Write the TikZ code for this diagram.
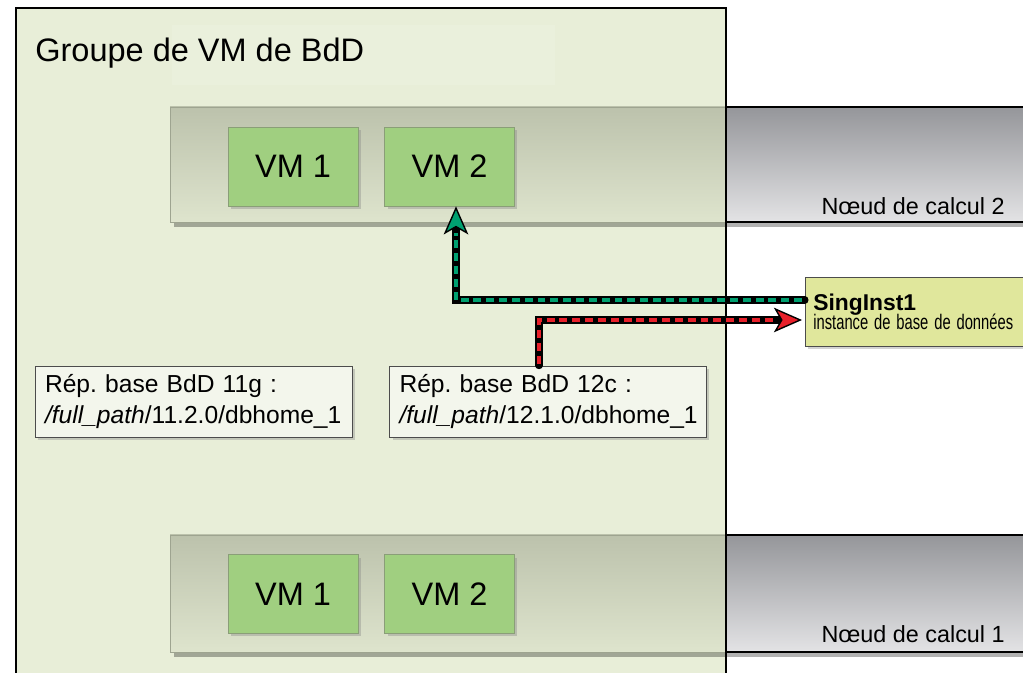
\documentclass[tikz,border=0pt]{standalone}
\usepackage{fontspec}
\setmainfont{Liberation Sans}
\newfontfamily\narrowfont[FakeStretch=0.70]{Liberation Sans}
\usetikzlibrary{arrows.meta,calc,shadows}

\definecolor{groupevert}{HTML}{E8EED8}
\definecolor{bandeh}{HTML}{BCC2AC}
\definecolor{bandeb}{HTML}{DEE4CD}
\definecolor{bandebord}{HTML}{9EA490}
\definecolor{noeudh}{HTML}{95969A}
\definecolor{noeudb}{HTML}{E3E3E5}
\definecolor{vmvert}{HTML}{A0CF80}
\definecolor{vmbord}{HTML}{8A9E78}
\definecolor{repfond}{HTML}{F3F6EC}
\definecolor{instjaune}{HTML}{E0E79C}
\definecolor{flechevert}{HTML}{00A070}
\definecolor{flecherouge}{HTML}{E8202A}

\begin{document}
\frenchspacing
\begin{tikzpicture}[x=0.02cm,y=0.02cm,
  ombre/.style={drop shadow={shadow xshift=0.06cm,shadow yshift=-0.06cm,opacity=.35}},
  vmbox/.style={draw=vmbord,fill=vmvert,minimum width=2.6cm,minimum height=1.58cm,
    font=\fontsize{18.5}{20}\selectfont,ombre},
  repbox/.style={draw=black!70,fill=repfond,align=left,text width=5.94cm,inner xsep=0.2cm,
    minimum height=1.42cm,font=\fontsize{14}{18}\selectfont,ombre},
  noeudlabel/.style={anchor=base east,inner sep=0pt,font=\fontsize{13.3}{14}\selectfont},
  fondligne/.style={line width=4pt,line cap=round},
  tirets/.style={line width=2pt,dash pattern=on 4.5pt off 2.8pt,shorten >=15pt},
  pointe/.style={-{Stealth[length=16pt,width=14pt,inset=4pt,line width=0.8pt,fill=#1]}}]
  \clip (0,0) rectangle (1023,672);

  % groupe de VM
  \fill[groupevert] (16,664) rectangle (726,-10);
  \fill[white,opacity=.12] (172,647) rectangle (555,587);
  \node[anchor=base west,inner sep=0pt,font=\fontsize{18.5}{20}\selectfont] (titre) at (35,610) {Groupe de VM de BdD};

  % noeuds de calcul
  \foreach \yb/\yh in {450/565,20/137} {
    \fill[black,opacity=.3] (174,\yb-5) rectangle (1030,\yh-5);
    \shade[top color=bandeh,bottom color=bandeb] (170,\yb) rectangle (726,\yh);
    \shade[top color=noeudh,bottom color=noeudb] (726,\yb) rectangle (1030,\yh);
    \draw[bandebord] (170,\yb) rectangle (726,\yh);
    \draw[thick] (726,\yh) -- (1030,\yh);
    \draw[thick] (726,\yb) -- (1030,\yb);
  }
  \node[noeudlabel] (n2) at (1005,457) {Nœud de calcul 2};
  \node[noeudlabel] (n1) at (1005,30) {Nœud de calcul 1};

  \draw[line width=1.4pt] (16,664) rectangle (726,-10);

  % VM
  \node[vmbox] (vm1h) at (293,505.5) {VM 1};
  \node[vmbox] (vm2h) at (449.5,505.5) {VM 2};
  \node[vmbox] (vm1b) at (293,78) {VM 1};
  \node[vmbox] (vm2b) at (449.5,78) {VM 2};

  % repertoires
  \node[repbox] (rep11) at (193.5,270.5) {Rép. base BdD 11g :\\\textit{/full\_path}/11.2.0/dbhome\_1};
  \node[repbox] (rep12) at (548,270.5) {Rép. base BdD 12c :\\\textit{/full\_path}/12.1.0/dbhome\_1};

  % instance
  \node[draw=black!70,fill=instjaune,anchor=west,align=left,text width=4.4cm,inner xsep=0.16cm,
    minimum height=1.38cm,ombre] (sing) at (805,360.5)
    {{\bfseries\fontsize{13}{15}\selectfont SingInst1}\\[-1pt]{\narrowfont\fontsize{12}{14}\selectfont instance de base de données}};

  % fleches
  \draw[fondligne,pointe=flechevert] ($(sing.west)+(0,11.5)$) -| ($(vm2h.south)+(6.5,0)$);
  \draw[tirets,flechevert] ($(sing.west)+(-3,11.5)$) -| ($(vm2h.south)+(6.5,0)$);
  \draw[fondligne,pointe=flecherouge] ($(rep12.north)+(-9,0)$) |- ($(sing.west)+(-3,-8.5)$);
  \draw[tirets,flecherouge] ($(rep12.north)+(-9,2)$) |- ($(sing.west)+(-3,-8.5)$);
\end{tikzpicture}
\end{document}
